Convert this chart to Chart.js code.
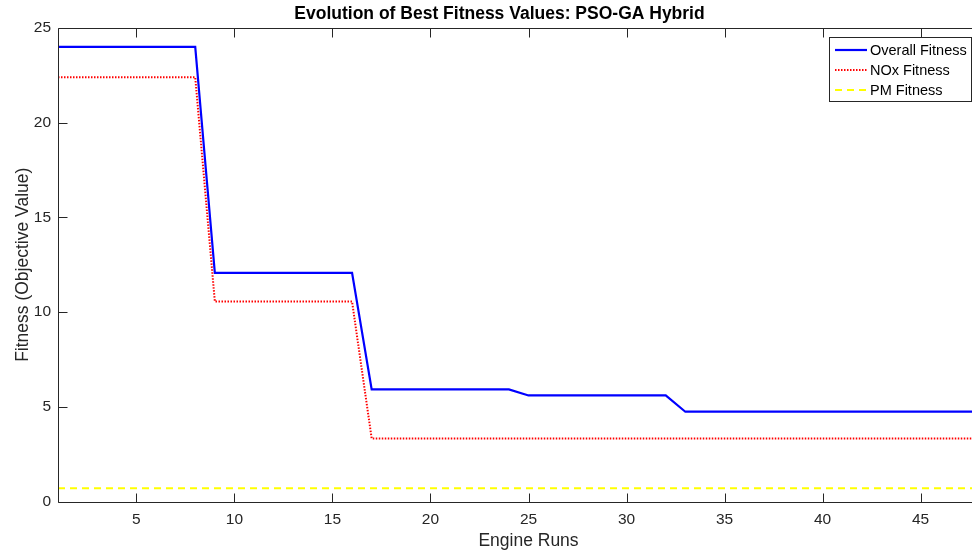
<!DOCTYPE html>
<html>
<head>
<meta charset="utf-8">
<script src="https://cdn.jsdelivr.net/npm/chart.js@4.4.0/dist/chart.umd.min.js"></script>
<style>
  html, body { margin: 0; padding: 0; background: #fff; overflow: hidden; }
  #wrap { position: absolute; left: 0; top: 0; width: 1057px; height: 555px; }
</style>
</head>
<body>
<div id="wrap"><canvas id="c" width="1057" height="555"></canvas></div>
<script>
// ---- data ----
const runs = [1,2,3,4,5,6,7,8,9,10,11,12,13,14,15,16,17,18,19,20,21,22,23,24,25,26,27,28,29,30,31,32,33,34,35,36,37,38,39,40,41,42,43,44,45,46,47,48,49];
const overallFitness = [24.0,24.0,24.0,24.0,24.0,24.0,24.0,24.0,
  12.07,12.07,12.07,12.07,12.07,12.07,12.07,12.07,
  5.92,5.92,5.92,5.92,5.92,5.92,5.92,5.92,
  5.6,5.6,5.6,5.6,5.6,5.6,5.6,5.6,
  4.74,4.74,4.74,4.74,4.74,4.74,4.74,4.74,4.74,4.74,4.74,4.74,4.74,4.74,4.74,4.74,4.74];
const noxFitness = [22.4,22.4,22.4,22.4,22.4,22.4,22.4,22.4,
  10.56,10.56,10.56,10.56,10.56,10.56,10.56,10.56,
  3.33,3.33,3.33,3.33,3.33,3.33,3.33,3.33,3.33,3.33,3.33,3.33,3.33,3.33,3.33,3.33,
  3.33,3.33,3.33,3.33,3.33,3.33,3.33,3.33,3.33,3.33,3.33,3.33,3.33,3.33,3.33,3.33,3.33];
const pmFitness = runs.map(() => 0.70);
const xTicks = [5,10,15,20,25,30,35,40,45];
const yTicks = [0,5,10,15,20,25];
const seriesNames = ['Overall Fitness','NOx Fitness','PM Fitness'];
const titleText = 'Evolution of Best Fitness Values: PSO-GA Hybrid';
const xLabel = 'Engine Runs';
const yLabel = 'Fitness (Objective Value)';

const toPts = arr => arr.map((v, i) => ({x: runs[i], y: v}));
const FONT = "'Liberation Sans', Arial, Helvetica, sans-serif";
const AX = '#262626';

const axesPlugin = {
  id: 'matlabAxes',
  afterDatasetsDraw(chart) {
    const ctx = chart.ctx, a = chart.chartArea;
    const xs = chart.scales.x, ys = chart.scales.y;
    ctx.save();
    ctx.strokeStyle = AX;
    ctx.lineWidth = 1;
    ctx.setLineDash([]);
    const L = Math.round(a.left) + 0.5, R = Math.round(a.right) + 0.5;
    const T = Math.round(a.top) + 0.5, B = Math.round(a.bottom) + 0.5;
    ctx.beginPath();
    ctx.moveTo(L, T); ctx.lineTo(R, T); ctx.lineTo(R, B); ctx.lineTo(L, B); ctx.closePath();
    ctx.stroke();
    const tl = 9;
    ctx.beginPath();
    xTicks.forEach(v => {
      const px = Math.round(xs.getPixelForValue(v)) + 0.5;
      ctx.moveTo(px, B); ctx.lineTo(px, B - tl);
      ctx.moveTo(px, T); ctx.lineTo(px, T + tl);
    });
    yTicks.forEach(v => {
      const py = Math.round(ys.getPixelForValue(v)) + 0.5;
      ctx.moveTo(L, py); ctx.lineTo(L + tl, py);
      ctx.moveTo(R, py); ctx.lineTo(R - tl, py);
    });
    ctx.stroke();
    ctx.restore();
  },
  afterDraw(chart) {
    // legend box inside axes (north-east)
    const ctx = chart.ctx;
    const bx = 829.5, by = 37.5, bw = 142, bh = 64;
    ctx.save();
    ctx.fillStyle = '#fff';
    ctx.fillRect(bx, by, bw, bh);
    ctx.strokeStyle = AX;
    ctx.lineWidth = 1;
    ctx.setLineDash([]);
    ctx.strokeRect(bx, by, bw, bh);
    const rows = [50, 70, 90];
    chart.data.datasets.forEach((ds, i) => {
      const y = rows[i];
      ctx.beginPath();
      ctx.strokeStyle = ds.borderColor;
      ctx.lineWidth = ds.borderWidth;
      ctx.setLineDash(ds.borderDash || []);
      ctx.moveTo(835, y); ctx.lineTo(867, y);
      ctx.stroke();
      ctx.setLineDash([]);
      ctx.fillStyle = '#000';
      ctx.font = '14.5px ' + FONT;
      ctx.textBaseline = 'middle';
      ctx.textAlign = 'left';
      ctx.fillText(ds.label, 870, y + 1);
    });
    ctx.restore();
  }
};

new Chart(document.getElementById('c'), {
  type: 'line',
  data: {
    datasets: [
      { label: seriesNames[0], data: toPts(overallFitness), borderColor: '#0000ff', borderWidth: 2.2, pointRadius: 0, tension: 0, fill: false, order: 2 },
      { label: seriesNames[1], data: toPts(noxFitness), borderColor: '#ff0000', borderWidth: 2, borderDash: [1.5, 1.5], pointRadius: 0, tension: 0, fill: false, order: 1 },
      { label: seriesNames[2], data: toPts(pmFitness), borderColor: '#ffff00', borderWidth: 2, borderDash: [7, 5], pointRadius: 0, tension: 0, fill: false, order: 0 }
    ]
  },
  options: {
    responsive: false,
    animation: false,
    devicePixelRatio: 1,
    layout: { padding: { left: 0, right: 58, top: 0, bottom: 0 } },
    plugins: {
      legend: { display: false },
      tooltip: { enabled: false },
      title: {
        display: true,
        text: titleText,
        color: '#000',
        font: { family: FONT, size: 17.5, weight: 'bold' },
        padding: { top: 3.5, bottom: 3.5 }
      }
    },
    scales: {
      x: {
        type: 'linear',
        min: 1, max: 49,
        grid: { display: false, drawTicks: false },
        border: { display: false },
        afterBuildTicks: s => { s.ticks = xTicks.map(v => ({value: v})); },
        afterFit: s => { s.height = 53.5; },
        ticks: { color: AX, font: { family: FONT, size: 15.5 }, padding: 9, maxRotation: 0, autoSkip: false },
        title: { display: true, text: xLabel, color: AX, font: { family: FONT, size: 17.5 }, padding: { top: 0, bottom: 3.5 } }
      },
      y: {
        type: 'linear',
        min: 0, max: 25,
        grid: { display: false, drawTicks: false },
        border: { display: false },
        afterBuildTicks: s => { s.ticks = yTicks.map(v => ({value: v})); },
        afterFit: s => { s.width = 58; },
        ticks: { color: AX, font: { family: FONT, size: 15.5 }, padding: 7 },
        title: { display: true, text: yLabel, color: AX, font: { family: FONT, size: 17.5 }, padding: { top: 12.5, bottom: 0 } }
      }
    }
  },
  plugins: [axesPlugin]
});
</script>
</body>
</html>
